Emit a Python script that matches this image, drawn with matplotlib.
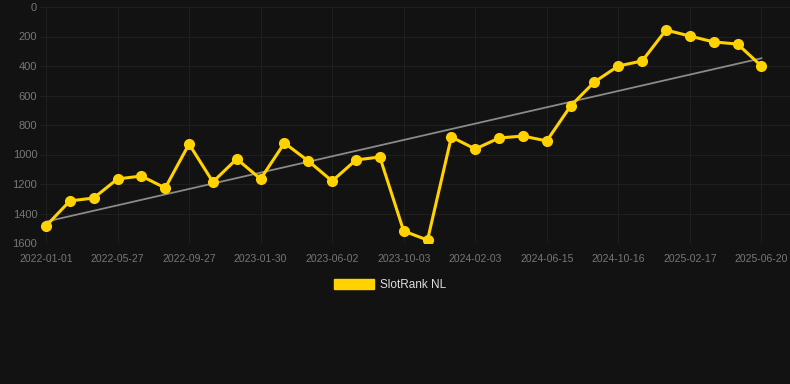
import numpy as np
import matplotlib.pyplot as plt
from matplotlib.patches import Patch

# Data (rank, lower is better)
dates = ["2022-01-01", "2022-05-27", "2022-09-27", "2023-01-30", "2023-06-02",
         "2023-10-03", "2024-02-03", "2024-06-15", "2024-10-16", "2025-02-17",
         "2025-06-20"]
ranks = [1485, 1315, 1295, 1166, 1146, 1227, 929, 1186, 1030, 1166,
         922, 1044, 1180, 1037, 1017, 1519, 1580, 881, 963, 888,
         875, 908, 671, 508, 400, 366, 156, 197, 237, 251, 400]
series_name = "SlotRank NL"

bg = "#121212"
gold = "#FFD200"
grid_c = "#1f1f1f"
tick_c = "#777777"

plt.rcParams['font.family'] = ['Liberation Sans', 'DejaVu Sans']

fig = plt.figure(figsize=(7.9, 3.84), dpi=100, facecolor=bg)
ax = fig.add_axes([40 / 790, 1 - 243 / 384, 750 / 790, 236 / 384])
ax.set_facecolor(bg)

x = np.arange(len(ranks))
y = np.array(ranks)

# linear trend
k, b = np.polyfit(x, y, 1)
ax.plot(x, k * x + b, color="#8a8a8a", linewidth=1.3, zorder=2)

ax.plot(x, y, color=gold, linewidth=2.2, marker="o", markersize=7,
        zorder=3)

ax.set_ylim(1600, 0)
ax.set_xlim(-0.25, 31.2)
ax.set_yticks(range(0, 1601, 200))
ax.set_xticks(x[::3])
ax.set_xticklabels(dates)

ax.grid(True, color=grid_c, linewidth=0.8)
ax.set_axisbelow(True)
for s in ax.spines.values():
    s.set_visible(False)
ax.tick_params(axis="both", length=0, colors=tick_c, labelsize=8)
ax.tick_params(axis="x", labelsize=7.5)
ax.tick_params(axis="y", pad=2)
ax.tick_params(axis="x", pad=8)

handle = Patch(facecolor=gold, edgecolor=gold)
fig.legend([handle], [series_name], loc="center", bbox_to_anchor=(0.494, 0.258),
           frameon=False, fontsize=8.5, labelcolor="#dddddd",
           handlelength=3.4, handleheight=0.9, handletextpad=0.5)

fig.savefig("out.png", dpi=100, facecolor=bg)
